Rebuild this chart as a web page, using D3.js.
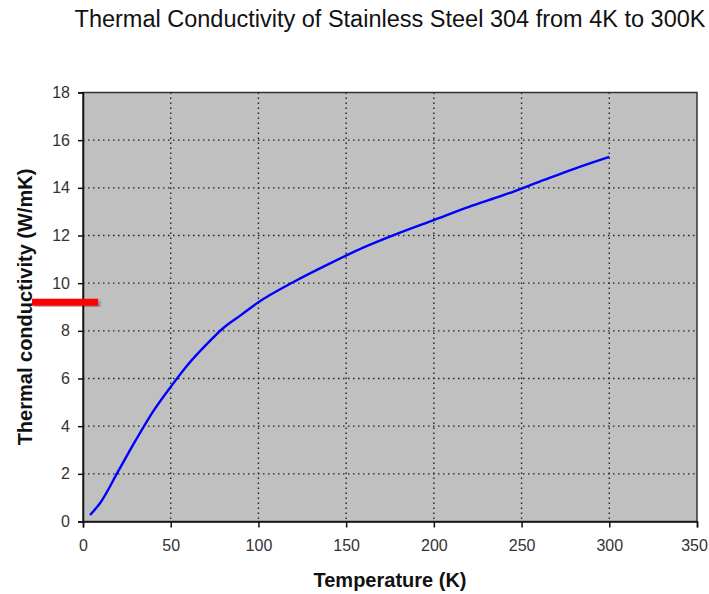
<!DOCTYPE html>
<html>
<head>
  <meta charset="utf-8">
  <title>Thermal Conductivity SS304</title>
  <script src="https://d3js.org/d3.v7.min.js"></script>
  <style>
    body { margin: 0; background: #fff; }
    text { font-family: "Liberation Sans", Arial, sans-serif; }
    .tick text { font-size: 16px; fill: #333; }
    .grid line { stroke: #222; stroke-width: 1.4; stroke-dasharray: 1.5,3.5; }
  </style>
</head>
<body>
  <svg id="chart"></svg>
  <script>
    // temperature (K) and thermal conductivity (W/mK)
    var temps = [4, 10, 20, 30, 40, 50, 60, 70, 80, 90, 100, 120, 140, 160, 180, 200, 220, 240, 260, 280, 300];
    var conductivity = [0.27, 0.8, 2.1, 3.4, 4.62, 5.65, 6.6, 7.4, 8.12, 8.66, 9.2, 10.05, 10.8, 11.5, 12.1, 12.65, 13.2, 13.7, 14.25, 14.8, 15.3];
    var xTicks = [0, 50, 100, 150, 200, 250, 300, 350];
    var yTicks = [0, 2, 4, 6, 8, 10, 12, 14, 16, 18];
    var data = temps.map((t, i) => ({t: t, k: conductivity[i]}));

    var margin = {top: 92.5, right: 12, bottom: 72.5, left: 83};
    var width = 709 - margin.left - margin.right;
    var height = 594 - margin.top - margin.bottom;

    var svg = d3.select("#chart")
                .attr("width", 709)
                .attr("height", 594);

    // soft shadow for the red marker
    svg.append("defs").append("filter")
       .attr("id", "shadow")
       .append("feDropShadow")
       .attr("dx", 2).attr("dy", 2).attr("stdDeviation", 1.5)
       .attr("flood-color", "#000").attr("flood-opacity", 0.35);

    var g = svg.append("g")
               .attr("transform", "translate(" + margin.left + "," + margin.top + ")");

    var x = d3.scaleLinear().domain([0, 350]).range([0, width]);
    var y = d3.scaleLinear().domain([0, 18]).range([height, 0]);

    // plot background
    g.append("rect")
     .attr("width", width)
     .attr("height", height)
     .attr("fill", "#c0c0c0");

    // dotted grid
    g.append("g").attr("class", "grid")
     .selectAll("line").data(xTicks.slice(1, -1)).enter().append("line")
     .attr("x1", d => x(d)).attr("x2", d => x(d))
     .attr("y1", 0).attr("y2", height);
    g.append("g").attr("class", "grid")
     .selectAll("line").data(yTicks.slice(1, -1)).enter().append("line")
     .attr("x1", 0).attr("x2", width)
     .attr("y1", d => y(d)).attr("y2", d => y(d));

    // border
    g.append("rect")
     .attr("width", width)
     .attr("height", height)
     .attr("fill", "none")
     .attr("stroke", "#333")
     .attr("stroke-width", 1.5);

    // axes
    var xAxis = g.append("g")
       .attr("transform", "translate(0," + height + ")")
       .call(d3.axisBottom(x).tickValues(xTicks).tickSize(6).tickPadding(12));
    var yAxis = g.append("g")
       .call(d3.axisLeft(y).tickValues(yTicks).tickSize(5).tickPadding(8));
    [xAxis, yAxis].forEach(a => {
      a.select(".domain").attr("stroke", "#111").attr("stroke-width", 1.5);
      a.selectAll(".tick line").attr("stroke", "#111").attr("stroke-width", 1.5);
    });
    // keep the last label inside the page
    xAxis.selectAll(".tick text").filter(d => d === 350).attr("dx", -3);

    // curve
    g.append("path")
     .datum(data)
     .attr("fill", "none")
     .attr("stroke", "#0000ff")
     .attr("stroke-width", 2.4)
     .attr("d", d3.line().x(d => x(d.t)).y(d => y(d.k)).curve(d3.curveMonotoneX));

    // title
    svg.append("text")
       .attr("x", 390)
       .attr("y", 27)
       .attr("text-anchor", "middle")
       .style("font-size", "23.5px")
       .style("fill", "#111")
       .text("Thermal Conductivity of Stainless Steel 304 from 4K to 300K");

    // axis titles
    svg.append("text")
       .attr("x", 390)
       .attr("y", 587)
       .attr("text-anchor", "middle")
       .style("font-size", "20px")
       .style("font-weight", "bold")
       .style("fill", "#111")
       .text("Temperature (K)");
    svg.append("text")
       .attr("transform", "translate(32,307) rotate(-90)")
       .attr("text-anchor", "middle")
       .style("font-size", "20px")
       .style("font-weight", "bold")
       .style("fill", "#111")
       .text("Thermal conductivity (W/mK)");

    // red marker from the original image
    svg.append("rect")
       .attr("x", 32)
       .attr("y", margin.top + y(9.2) - 3.5)
       .attr("width", 66)
       .attr("height", 7)
       .attr("fill", "#ff0000")
       .attr("filter", "url(#shadow)");
  </script>
</body>
</html>
